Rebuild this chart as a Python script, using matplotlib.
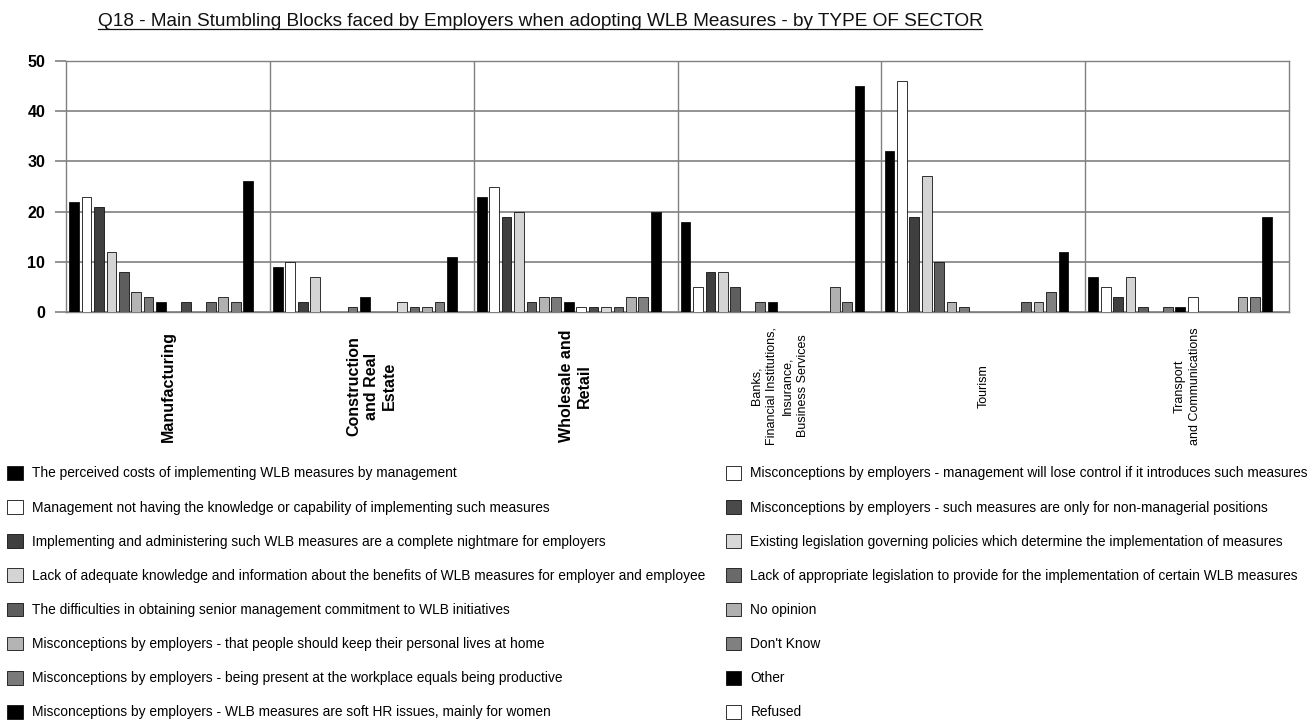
import matplotlib
matplotlib.use('Agg')
import matplotlib.pyplot as plt
from matplotlib.lines import Line2D

FONT = 'Liberation Sans'
plt.rcParams.update({'font.family': FONT, 'font.size': 10})

SECTORS = ['Manufacturing', 'Construction\nand Real\nEstate', 'Wholesale and\nRetail',
           'Banks,\nFinancial Institutions,\nInsurance,\nBusiness Services', 'Tourism',
           'Transport\nand Communications']
SECTOR_BOLD = [True, True, True, False, False, False]

REASONS = [
    'The perceived costs of implementing WLB measures by management',
    'Management not having the knowledge or capability of implementing such measures',
    'Implementing and administering such WLB measures are a complete nightmare for employers',
    'Lack of adequate knowledge and information about the benefits of WLB measures for employer and employee',
    'The difficulties in obtaining senior management commitment to WLB initiatives',
    'Misconceptions by employers - that people should keep their personal lives at home',
    'Misconceptions by employers - being present at the workplace equals being productive',
    'Misconceptions by employers - WLB measures are soft HR issues, mainly for women',
    'Misconceptions by employers - management will lose control if it introduces such measures',
    'Misconceptions by employers - such measures are only for non-managerial positions',
    'Existing legislation governing policies which determine the implementation of measures',
    'Lack of appropriate legislation to provide for the implementation of certain WLB measures',
    'No opinion',
    "Don't Know",
    'Other',
    'Refused',
]

# values per sector, one per reason (same order as REASONS)
MANUFACTURING = [22, 23, 21, 12, 8, 4, 3, 2, 0, 2, 0, 2, 3, 2, 26, 0]
CONSTRUCTION = [9, 10, 2, 7, 0, 0, 1, 3, 0, 0, 2, 1, 1, 2, 11, 0]
WHOLESALE = [23, 25, 19, 20, 2, 3, 3, 2, 1, 1, 1, 1, 3, 3, 20, 0]
BANKS = [18, 5, 8, 8, 5, 0, 2, 2, 0, 0, 0, 0, 5, 2, 45, 0]
TOURISM = [32, 46, 19, 27, 10, 2, 1, 0, 0, 0, 0, 2, 2, 4, 12, 0]
TRANSPORT = [7, 5, 3, 7, 1, 0, 1, 1, 3, 0, 0, 0, 3, 3, 19, 0]
SECTOR_VALUES = [MANUFACTURING, CONSTRUCTION, WHOLESALE, BANKS, TOURISM, TRANSPORT]

COLORS = ['#000000', '#ffffff', '#3f3f3f', '#d4d4d4', '#5e5e5e', '#b4b4b4', '#7a7a7a', '#000000',
          '#ffffff', '#4a4a4a', '#d8d8d8', '#6a6a6a', '#b0b0b0', '#808080', '#000000', '#ffffff']

GRID = '#808080'
W = 16.4  # group width in bar slots

fig = plt.figure(figsize=(13.15, 7.22), dpi=100)
ax = fig.add_axes([66 / 1315, 1 - 312 / 722, (1289 - 66) / 1315, (312 - 61) / 722])

handles = []
for i, reason in enumerate(REASONS):
    xs = [g * W + 0.65 + i for g in range(len(SECTORS))]
    hs = [vals[i] for vals in SECTOR_VALUES]
    b = ax.bar(xs, hs, width=0.78, color=COLORS[i], edgecolor='#111111',
               linewidth=0.6, label=reason, zorder=3)
    handles.append(b)

ax.set_xlim(0, W * len(SECTORS))
ax.set_ylim(0, 50)
ax.set_yticks(range(0, 51, 10))
ax.set_xticks([])
ax.yaxis.grid(True, color=GRID, linewidth=1.2)
for g in range(1, len(SECTORS)):
    ax.axvline(g * W, color=GRID, linewidth=1.0, zorder=1)
for sp in ax.spines.values():
    sp.set_color(GRID)
    sp.set_linewidth(1.0)
ax.tick_params(axis='y', length=8, color=GRID, width=1.2, pad=7)
for lbl in ax.get_yticklabels():
    lbl.set_fontweight('bold')
    lbl.set_fontsize(11.5)

# sector labels under each group
for g, (name, bold) in enumerate(zip(SECTORS, SECTOR_BOLD)):
    ax.text(g * W + W / 2, -0.295, name, transform=ax.get_xaxis_transform(),
            rotation=90, ha='center', va='center', multialignment='center',
            fontsize=11.5 if bold else 9, fontweight='bold' if bold else 'normal',
            linespacing=1.2 if bold else 1.4)

# title, underlined
title = fig.text(540 / 1315, 1 - 21 / 722,
                 'Q18 - Main Stumbling Blocks faced by Employers when adopting WLB Measures - by TYPE OF SECTOR',
                 ha='center', va='center', fontsize=13.7, color='#111111')
fig.canvas.draw()
bb = title.get_window_extent()
fig.lines.append(Line2D([bb.x0, bb.x1], [bb.y0 + 0.5, bb.y0 + 0.5], color='#111111',
                        linewidth=0.9, transform=None))

fig.legend(handles=handles, labels=REASONS, ncol=2, loc='upper left',
           bbox_to_anchor=(7 / 1315, 1 - 466 / 722), frameon=False, fontsize=9.9,
           handlelength=1.15, handleheight=1.15, handletextpad=0.65,
           labelspacing=1.43, columnspacing=1.5, borderpad=0, borderaxespad=0)

fig.savefig('out.png', dpi=100, facecolor='white')
plt.close(fig)
